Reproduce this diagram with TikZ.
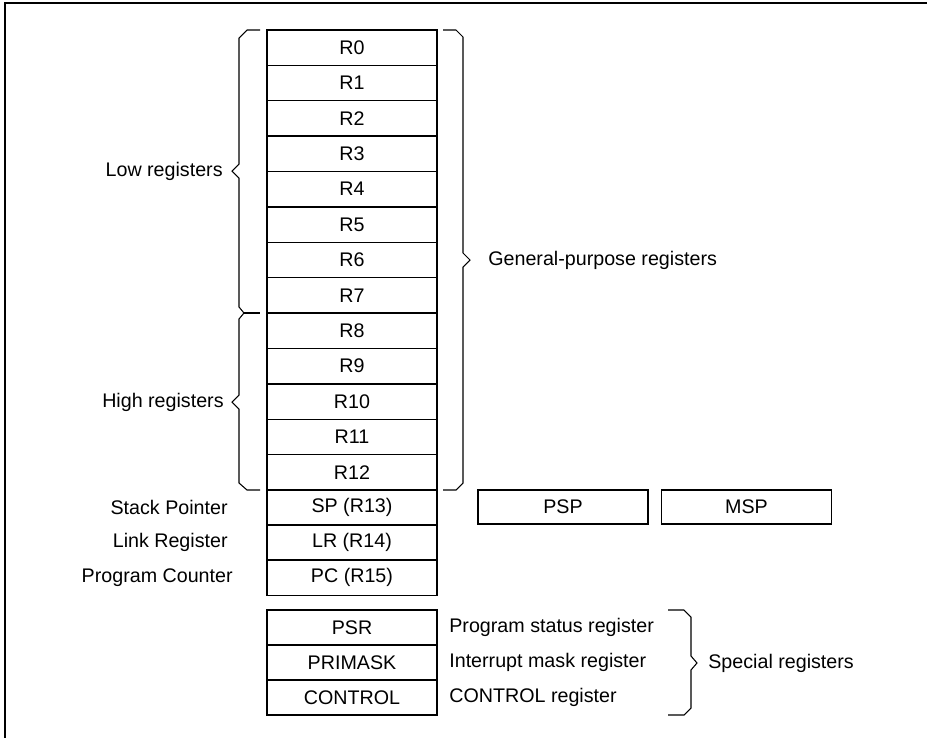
\documentclass[tikz,border=0pt]{standalone}
\usepackage{fontspec}
\setmainfont{Liberation Sans}
\begin{document}
\begin{tikzpicture}[x=0.02cm, y=-0.02cm,
    font=\fontsize{11.2}{13}\selectfont,
    regbox/.style={draw, line width=0.7pt, minimum width=3.4cm, minimum height=0.705cm, inner sep=0pt, outer sep=0pt},
    spbox/.style={regbox, minimum height=0.68cm},
    lbl/.style={inner sep=0pt},
    brace/.style={draw, line width=0.6pt, line join=miter}]
    \useasboundingbox (0,0) rectangle (927,738);
    % frame
    \draw[line width=1.1pt] (927,3) -- (5,3) -- (5,738);

    % general-purpose registers
    \foreach \i in {0,...,12} {
        \node[regbox] (r\i) at (352, {47.7+\i*35.38}) {R\i};
    }
    \node[regbox] (sp) at (352,507.5) {SP (R13)};
    \node[regbox] (lr) at (352,542.5) {LR (R14)};
    \node[regbox] (pc) at (352,577.5) {PC (R15)};
    \node[spbox] (psp) at (563,507) {PSP};
    \node[spbox] (msp) at (746.5,507) {MSP};

    \node[lbl, anchor=east] (splbl) at (228,507.5) {Stack Pointer};
    \node[lbl, anchor=east] (lrlbl) at (228,542.5) {Link Register};
    \node[lbl, anchor=east] (pclbl) at (233,578) {Program Counter};

    % braces
    \draw[brace] (260,30) -- (247,30) -- (239,38) -- (239,164) -- (232,171)
        -- (239,178) -- (239,307) -- (244,313) -- (239,319) -- (239,395)
        -- (232,402) -- (239,409) -- (239,483) -- (247,490) -- (260,490);
    \draw[brace] (244,313) -- (260,313);
    \node[lbl, anchor=east] (lowlbl) at (223,171) {Low registers};
    \node[lbl, anchor=east] (highlbl) at (224,402) {High registers};

    \draw[brace] (443,30) -- (456,30) -- (463,37) -- (463,253) -- (470,260)
        -- (463,267) -- (463,483) -- (456,490) -- (443,490);
    \node[lbl, anchor=west] (gplbl) at (488,260) {General-purpose registers};

    % special registers
    \node[regbox, minimum height=0.7cm] (psr) at (352,627.5) {PSR};
    \node[regbox, minimum height=0.7cm] (primask) at (352,662.5) {PRIMASK};
    \node[regbox, minimum height=0.7cm] (control) at (352,697.5) {CONTROL};
    \node[lbl, anchor=west] (psrlbl) at (449,627.5) {Program status register};
    \node[lbl, anchor=west] (pmlbl) at (449,662.5) {Interrupt mask register};
    \node[lbl, anchor=west] (ctllbl) at (449,697.5) {CONTROL register};

    \draw[brace] (668,610) -- (684,610) -- (691,617) -- (691,656) -- (697,663)
        -- (691,670) -- (691,708) -- (684,715) -- (668,715);
    \node[lbl, anchor=west] (speclbl) at (708,663) {Special registers};
\end{tikzpicture}
\end{document}
